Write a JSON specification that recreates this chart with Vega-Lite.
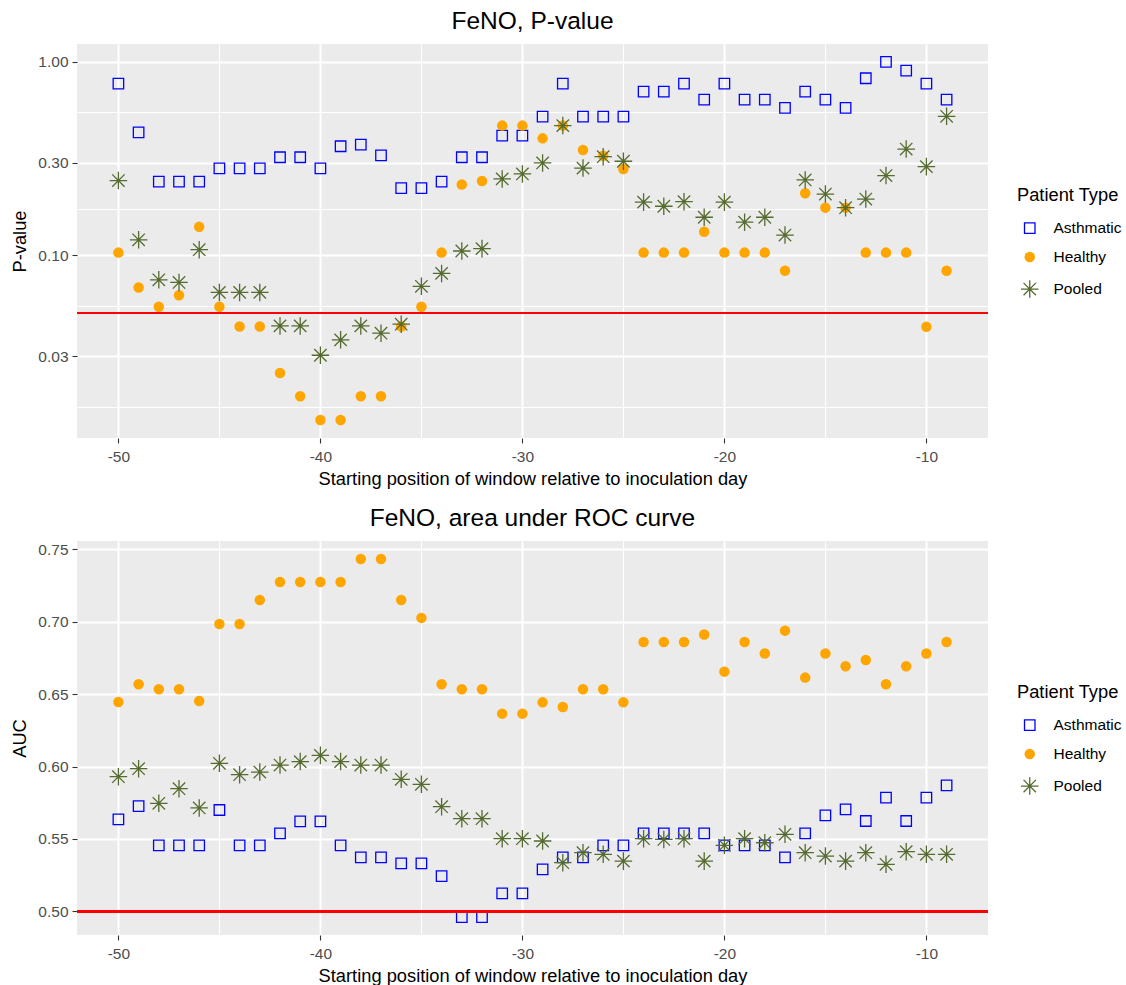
{
  "$schema": "https://vega.github.io/schema/vega-lite/v6.json",
  "padding": {"left": 10, "top": 8, "right": 5, "bottom": 5},
  "background": "#FFFFFF",
  "bounds": "flush",
  "spacing": 103,
  "data": {"values": [
    {"d": -50, "t": "Asthmatic", "p": 0.772, "auc": 0.5635},
    {"d": -49, "t": "Asthmatic", "p": 0.432, "auc": 0.5727},
    {"d": -48, "t": "Asthmatic", "p": 0.240, "auc": 0.5456},
    {"d": -47, "t": "Asthmatic", "p": 0.240, "auc": 0.5456},
    {"d": -46, "t": "Asthmatic", "p": 0.240, "auc": 0.5456},
    {"d": -45, "t": "Asthmatic", "p": 0.281, "auc": 0.5700},
    {"d": -44, "t": "Asthmatic", "p": 0.281, "auc": 0.5456},
    {"d": -43, "t": "Asthmatic", "p": 0.281, "auc": 0.5456},
    {"d": -42, "t": "Asthmatic", "p": 0.321, "auc": 0.5539},
    {"d": -41, "t": "Asthmatic", "p": 0.321, "auc": 0.5622},
    {"d": -40, "t": "Asthmatic", "p": 0.281, "auc": 0.5622},
    {"d": -39, "t": "Asthmatic", "p": 0.366, "auc": 0.5456},
    {"d": -38, "t": "Asthmatic", "p": 0.373, "auc": 0.5373},
    {"d": -37, "t": "Asthmatic", "p": 0.328, "auc": 0.5373},
    {"d": -36, "t": "Asthmatic", "p": 0.222, "auc": 0.5331},
    {"d": -35, "t": "Asthmatic", "p": 0.222, "auc": 0.5331},
    {"d": -34, "t": "Asthmatic", "p": 0.240, "auc": 0.5244},
    {"d": -33, "t": "Asthmatic", "p": 0.321, "auc": 0.4961},
    {"d": -32, "t": "Asthmatic", "p": 0.321, "auc": 0.4961},
    {"d": -31, "t": "Asthmatic", "p": 0.415, "auc": 0.5124},
    {"d": -30, "t": "Asthmatic", "p": 0.415, "auc": 0.5124},
    {"d": -29, "t": "Asthmatic", "p": 0.521, "auc": 0.5290},
    {"d": -28, "t": "Asthmatic", "p": 0.772, "auc": 0.5373},
    {"d": -27, "t": "Asthmatic", "p": 0.521, "auc": 0.5373},
    {"d": -26, "t": "Asthmatic", "p": 0.521, "auc": 0.5456},
    {"d": -25, "t": "Asthmatic", "p": 0.521, "auc": 0.5456},
    {"d": -24, "t": "Asthmatic", "p": 0.702, "auc": 0.5539},
    {"d": -23, "t": "Asthmatic", "p": 0.702, "auc": 0.5539},
    {"d": -22, "t": "Asthmatic", "p": 0.772, "auc": 0.5539},
    {"d": -21, "t": "Asthmatic", "p": 0.638, "auc": 0.5539},
    {"d": -20, "t": "Asthmatic", "p": 0.772, "auc": 0.5456},
    {"d": -19, "t": "Asthmatic", "p": 0.638, "auc": 0.5456},
    {"d": -18, "t": "Asthmatic", "p": 0.638, "auc": 0.5456},
    {"d": -17, "t": "Asthmatic", "p": 0.578, "auc": 0.5373},
    {"d": -16, "t": "Asthmatic", "p": 0.702, "auc": 0.5539},
    {"d": -15, "t": "Asthmatic", "p": 0.638, "auc": 0.5663},
    {"d": -14, "t": "Asthmatic", "p": 0.578, "auc": 0.5704},
    {"d": -13, "t": "Asthmatic", "p": 0.823, "auc": 0.5624},
    {"d": -12, "t": "Asthmatic", "p": 1.0, "auc": 0.5785},
    {"d": -11, "t": "Asthmatic", "p": 0.902, "auc": 0.5624},
    {"d": -10, "t": "Asthmatic", "p": 0.772, "auc": 0.5785},
    {"d": -9, "t": "Asthmatic", "p": 0.638, "auc": 0.5870},
    {"d": -50, "t": "Healthy", "p": 0.103, "auc": 0.6445},
    {"d": -49, "t": "Healthy", "p": 0.068, "auc": 0.6568},
    {"d": -48, "t": "Healthy", "p": 0.054, "auc": 0.6533},
    {"d": -47, "t": "Healthy", "p": 0.062, "auc": 0.6533},
    {"d": -46, "t": "Healthy", "p": 0.140, "auc": 0.6452},
    {"d": -45, "t": "Healthy", "p": 0.054, "auc": 0.6984},
    {"d": -44, "t": "Healthy", "p": 0.0427, "auc": 0.6984},
    {"d": -43, "t": "Healthy", "p": 0.0427, "auc": 0.7150},
    {"d": -42, "t": "Healthy", "p": 0.0245, "auc": 0.7274},
    {"d": -41, "t": "Healthy", "p": 0.0186, "auc": 0.7274},
    {"d": -40, "t": "Healthy", "p": 0.0140, "auc": 0.7274},
    {"d": -39, "t": "Healthy", "p": 0.0140, "auc": 0.7274},
    {"d": -38, "t": "Healthy", "p": 0.0186, "auc": 0.7433},
    {"d": -37, "t": "Healthy", "p": 0.0186, "auc": 0.7433},
    {"d": -36, "t": "Healthy", "p": 0.0427, "auc": 0.7150},
    {"d": -35, "t": "Healthy", "p": 0.054, "auc": 0.7026},
    {"d": -34, "t": "Healthy", "p": 0.103, "auc": 0.6568},
    {"d": -33, "t": "Healthy", "p": 0.232, "auc": 0.6533},
    {"d": -32, "t": "Healthy", "p": 0.242, "auc": 0.6533},
    {"d": -31, "t": "Healthy", "p": 0.468, "auc": 0.6365},
    {"d": -30, "t": "Healthy", "p": 0.468, "auc": 0.6365},
    {"d": -29, "t": "Healthy", "p": 0.402, "auc": 0.6443},
    {"d": -28, "t": "Healthy", "p": 0.468, "auc": 0.6411},
    {"d": -27, "t": "Healthy", "p": 0.350, "auc": 0.6533},
    {"d": -26, "t": "Healthy", "p": 0.327, "auc": 0.6533},
    {"d": -25, "t": "Healthy", "p": 0.279, "auc": 0.6443},
    {"d": -24, "t": "Healthy", "p": 0.103, "auc": 0.6860},
    {"d": -23, "t": "Healthy", "p": 0.103, "auc": 0.6860},
    {"d": -22, "t": "Healthy", "p": 0.103, "auc": 0.6860},
    {"d": -21, "t": "Healthy", "p": 0.132, "auc": 0.6911},
    {"d": -20, "t": "Healthy", "p": 0.103, "auc": 0.6655},
    {"d": -19, "t": "Healthy", "p": 0.103, "auc": 0.6860},
    {"d": -18, "t": "Healthy", "p": 0.103, "auc": 0.6780},
    {"d": -17, "t": "Healthy", "p": 0.083, "auc": 0.6938},
    {"d": -16, "t": "Healthy", "p": 0.209, "auc": 0.6614},
    {"d": -15, "t": "Healthy", "p": 0.176, "auc": 0.6780},
    {"d": -14, "t": "Healthy", "p": 0.176, "auc": 0.6692},
    {"d": -13, "t": "Healthy", "p": 0.103, "auc": 0.6736},
    {"d": -12, "t": "Healthy", "p": 0.103, "auc": 0.6568},
    {"d": -11, "t": "Healthy", "p": 0.103, "auc": 0.6692},
    {"d": -10, "t": "Healthy", "p": 0.0425, "auc": 0.6780},
    {"d": -9, "t": "Healthy", "p": 0.083, "auc": 0.6860},
    {"d": -50, "t": "Pooled", "p": 0.243, "auc": 0.5930},
    {"d": -49, "t": "Pooled", "p": 0.120, "auc": 0.5985},
    {"d": -48, "t": "Pooled", "p": 0.0745, "auc": 0.5746},
    {"d": -47, "t": "Pooled", "p": 0.0722, "auc": 0.5847},
    {"d": -46, "t": "Pooled", "p": 0.1066, "auc": 0.5714},
    {"d": -45, "t": "Pooled", "p": 0.0641, "auc": 0.6022},
    {"d": -44, "t": "Pooled", "p": 0.0641, "auc": 0.5944},
    {"d": -43, "t": "Pooled", "p": 0.0641, "auc": 0.5962},
    {"d": -42, "t": "Pooled", "p": 0.0430, "auc": 0.6010},
    {"d": -41, "t": "Pooled", "p": 0.0430, "auc": 0.6034},
    {"d": -40, "t": "Pooled", "p": 0.0303, "auc": 0.6077},
    {"d": -39, "t": "Pooled", "p": 0.0364, "auc": 0.6034},
    {"d": -38, "t": "Pooled", "p": 0.0430, "auc": 0.6010},
    {"d": -37, "t": "Pooled", "p": 0.0394, "auc": 0.6010},
    {"d": -36, "t": "Pooled", "p": 0.0439, "auc": 0.5912},
    {"d": -35, "t": "Pooled", "p": 0.0689, "auc": 0.5877},
    {"d": -34, "t": "Pooled", "p": 0.0804, "auc": 0.5723},
    {"d": -33, "t": "Pooled", "p": 0.105, "auc": 0.5640},
    {"d": -32, "t": "Pooled", "p": 0.108, "auc": 0.5640},
    {"d": -31, "t": "Pooled", "p": 0.248, "auc": 0.5502},
    {"d": -30, "t": "Pooled", "p": 0.263, "auc": 0.5502},
    {"d": -29, "t": "Pooled", "p": 0.300, "auc": 0.5486},
    {"d": -28, "t": "Pooled", "p": 0.468, "auc": 0.5336},
    {"d": -27, "t": "Pooled", "p": 0.282, "auc": 0.5405},
    {"d": -26, "t": "Pooled", "p": 0.323, "auc": 0.5394},
    {"d": -25, "t": "Pooled", "p": 0.306, "auc": 0.5347},
    {"d": -24, "t": "Pooled", "p": 0.188, "auc": 0.5502},
    {"d": -23, "t": "Pooled", "p": 0.179, "auc": 0.5497},
    {"d": -22, "t": "Pooled", "p": 0.189, "auc": 0.5502},
    {"d": -21, "t": "Pooled", "p": 0.157, "auc": 0.5347},
    {"d": -20, "t": "Pooled", "p": 0.188, "auc": 0.5456},
    {"d": -19, "t": "Pooled", "p": 0.148, "auc": 0.5502},
    {"d": -18, "t": "Pooled", "p": 0.157, "auc": 0.5474},
    {"d": -17, "t": "Pooled", "p": 0.127, "auc": 0.5532},
    {"d": -16, "t": "Pooled", "p": 0.245, "auc": 0.5405},
    {"d": -15, "t": "Pooled", "p": 0.207, "auc": 0.5382},
    {"d": -14, "t": "Pooled", "p": 0.176, "auc": 0.5347},
    {"d": -13, "t": "Pooled", "p": 0.195, "auc": 0.5405},
    {"d": -12, "t": "Pooled", "p": 0.258, "auc": 0.5325},
    {"d": -11, "t": "Pooled", "p": 0.354, "auc": 0.5412},
    {"d": -10, "t": "Pooled", "p": 0.287, "auc": 0.5394},
    {"d": -9, "t": "Pooled", "p": 0.523, "auc": 0.5394}
  ]},
  "resolve": {"legend": {"shape": "independent", "fill": "independent", "stroke": "independent"}},
  "vconcat": [
    {
      "width": 911,
      "height": 394,
      "title": {"text": "FeNO, P-value"},
      "layer": [
        {
          "mark": {"type": "point", "filled": false, "strokeWidth": 1.3, "size": 110, "opacity": 1},
          "encoding": {
            "x": {"field": "d", "type": "quantitative", "scale": {"domain": [-52.05, -6.95], "nice": false, "zero": false},
              "axis": {"title": "Starting position of window relative to inoculation day",
                "values": [-50, -45, -40, -35, -30, -25, -20, -15, -10],
                "labelExpr": "datum.value % 10 === 0 ? '' + datum.value : ''",
                "gridWidth": {"condition": {"test": "datum.value % 10 === 0", "value": 2}, "value": 1},
                "tickOpacity": {"condition": {"test": "datum.value % 10 === 0", "value": 1}, "value": 0}}},
            "y": {"field": "p", "type": "quantitative", "scale": {"type": "log", "domain": [0.0113, 1.238], "nice": false},
              "axis": {"title": "P-value",
                "values": [0.01643, 0.03, 0.05477, 0.1, 0.1732, 0.3, 0.5477, 1],
                "labelExpr": "indexof([0.03, 0.1, 0.3, 1], datum.value) >= 0 ? format(datum.value, '.2f') : ''",
                "gridWidth": {"condition": {"test": "indexof([0.03, 0.1, 0.3, 1], datum.value) >= 0", "value": 2}, "value": 1},
                "tickOpacity": {"condition": {"test": "indexof([0.03, 0.1, 0.3, 1], datum.value) >= 0", "value": 1}, "value": 0}}},
            "shape": {"field": "t", "type": "nominal", "scale": {"domain": ["Asthmatic", "Healthy", "Pooled"], "range": ["square", "circle", "M-1.67,0L1.67,0M0,-1.67L0,1.67M-1.18,-1.18L1.18,1.18M-1.18,1.18L1.18,-1.18"]},
              "legend": {"title": "Patient Type", "orient": "none", "legendX": 940, "legendY": 143}},
            "fill": {"field": "t", "type": "nominal", "scale": {"domain": ["Asthmatic", "Healthy", "Pooled"], "range": ["transparent", "#FFA500", "transparent"]},
              "legend": {"title": "Patient Type", "orient": "none", "legendX": 940, "legendY": 143}},
            "stroke": {"field": "t", "type": "nominal", "scale": {"domain": ["Asthmatic", "Healthy", "Pooled"], "range": ["#0000FF", "transparent", "#556B2F"]},
              "legend": {"title": "Patient Type", "orient": "none", "legendX": 940, "legendY": 143}}
          }
        },
        {
          "mark": {"type": "rule", "color": "#FF0000", "strokeWidth": 1.5},
          "encoding": {"y": {"datum": 0.05}}
        }
      ]
    },
    {
      "width": 911,
      "height": 394,
      "title": {"text": "FeNO, area under ROC curve"},
      "layer": [
        {
          "mark": {"type": "point", "filled": false, "strokeWidth": 1.3, "size": 110, "opacity": 1},
          "encoding": {
            "x": {"field": "d", "type": "quantitative", "scale": {"domain": [-52.05, -6.95], "nice": false, "zero": false},
              "axis": {"title": "Starting position of window relative to inoculation day",
                "values": [-50, -45, -40, -35, -30, -25, -20, -15, -10],
                "labelExpr": "datum.value % 10 === 0 ? '' + datum.value : ''",
                "gridWidth": {"condition": {"test": "datum.value % 10 === 0", "value": 2}, "value": 1},
                "tickOpacity": {"condition": {"test": "datum.value % 10 === 0", "value": 1}, "value": 0}}},
            "y": {"field": "auc", "type": "quantitative", "scale": {"domain": [0.4837, 0.7557], "nice": false, "zero": false},
              "axis": {"title": "AUC",
                "values": [0.5, 0.525, 0.55, 0.575, 0.6, 0.625, 0.65, 0.675, 0.7, 0.725, 0.75],
                "labelExpr": "abs(datum.value * 20 - round(datum.value * 20)) < 0.001 ? format(datum.value, '.2f') : ''",
                "gridWidth": {"condition": {"test": "abs(datum.value * 20 - round(datum.value * 20)) < 0.001", "value": 2}, "value": 1},
                "tickOpacity": {"condition": {"test": "abs(datum.value * 20 - round(datum.value * 20)) < 0.001", "value": 1}, "value": 0}}},
            "shape": {"field": "t", "type": "nominal", "scale": {"domain": ["Asthmatic", "Healthy", "Pooled"], "range": ["square", "circle", "M-1.67,0L1.67,0M0,-1.67L0,1.67M-1.18,-1.18L1.18,1.18M-1.18,1.18L1.18,-1.18"]},
              "legend": {"title": "Patient Type", "orient": "none", "legendX": 940, "legendY": 143}},
            "fill": {"field": "t", "type": "nominal", "scale": {"domain": ["Asthmatic", "Healthy", "Pooled"], "range": ["transparent", "#FFA500", "transparent"]},
              "legend": {"title": "Patient Type", "orient": "none", "legendX": 940, "legendY": 143}},
            "stroke": {"field": "t", "type": "nominal", "scale": {"domain": ["Asthmatic", "Healthy", "Pooled"], "range": ["#0000FF", "transparent", "#556B2F"]},
              "legend": {"title": "Patient Type", "orient": "none", "legendX": 940, "legendY": 143}}
          }
        },
        {
          "mark": {"type": "rule", "color": "#FF0000", "strokeWidth": 1.5},
          "encoding": {"y": {"datum": 0.5}}
        }
      ]
    }
  ],
  "config": {
    "font": "Liberation Sans",
    "view": {"fill": "#EBEBEB", "stroke": null},
    "axis": {"domain": false, "gridColor": "#FFFFFF", "tickColor": "#333333", "tickSize": 5, "tickWidth": 1.1,
      "labelColor": "#4D4D4D", "labelFontSize": 15.5, "labelPadding": 6.5, "labelFlush": false, "labelOverlap": false,
      "titleFontSize": 18.3, "titleFontWeight": "normal", "titleColor": "#000000", "titlePadding": 5},
    "axisY": {"titlePadding": 8, "labelPadding": 4},
    "title": {"fontSize": 24.5, "fontWeight": "normal", "color": "#000000", "anchor": "middle", "frame": "group", "offset": 10},
    "legend": {"titleFontSize": 18.3, "titleFontWeight": "normal", "titleColor": "#000000", "labelFontSize": 15.5, "labelColor": "#000000",
      "symbolSize": 110, "symbolStrokeWidth": 1.3, "rowPadding": 11, "titlePadding": 15, "symbolOffset": 5, "labelOffset": 16}
  }
}
